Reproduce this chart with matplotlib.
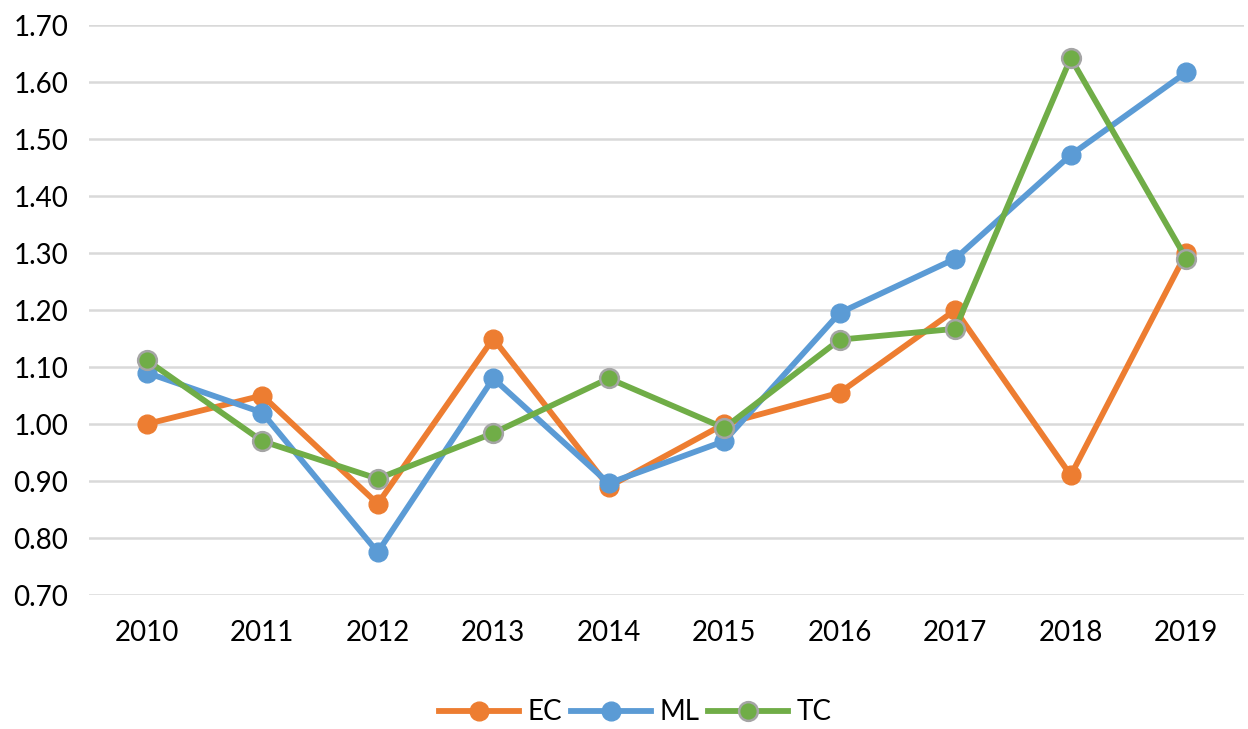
import matplotlib.pyplot as plt

years = ['2010', '2011', '2012', '2013', '2014', '2015', '2016', '2017', '2018', '2019']
ec = [1.00, 1.05, 0.86, 1.15, 0.89, 1.00, 1.055, 1.20, 0.91, 1.30]
ml = [1.09, 1.02, 0.775, 1.08, 0.896, 0.97, 1.195, 1.29, 1.472, 1.617]
tc = [1.112, 0.97, 0.904, 0.984, 1.08, 0.993, 1.148, 1.167, 1.642, 1.29]

plt.rcParams['font.family'] = ['Lato', 'DejaVu Sans']

fig = plt.figure(figsize=(12.48, 7.29), dpi=100)
ax = fig.add_axes([0.0713, 0.1838, 0.9255, 0.7819])

x = range(len(years))
ax.plot(x, ec, color='#ED7D31', lw=4.2, marker='o', ms=13.5, mec='#ED7D31', label='EC', zorder=3)
ax.plot(x, ml, color='#5B9BD5', lw=4.2, marker='o', ms=13.5, mec='#5B9BD5', label='ML', zorder=4)
ax.plot(x, tc, color='#70AD47', lw=4.2, marker='o', ms=13.5, mec='#A5A5A5', mew=1.8, label='TC', zorder=5)

ax.set_xlim(-0.5, len(years) - 0.5)
ax.set_ylim(0.70, 1.70)
ax.set_yticks([0.70 + 0.1 * i for i in range(11)])
ax.set_yticklabels(['%.2f' % (0.70 + 0.1 * i) for i in range(11)])
ax.set_xticks(list(x))
ax.set_xticklabels(years)
ax.tick_params(length=0, labelsize=20)
ax.tick_params(axis='x', pad=18)
ax.tick_params(axis='y', pad=15)
ax.grid(axis='y', color='#D9D9D9', lw=1.8)
ax.set_axisbelow(True)
for s in ax.spines.values():
    s.set_visible(False)

fig.legend(loc='center', bbox_to_anchor=(0.509, 0.023), ncol=3, frameon=False,
           fontsize=20, handlelength=2.9, columnspacing=0.3, handletextpad=0.3)

fig.savefig('out.png', dpi=100)
